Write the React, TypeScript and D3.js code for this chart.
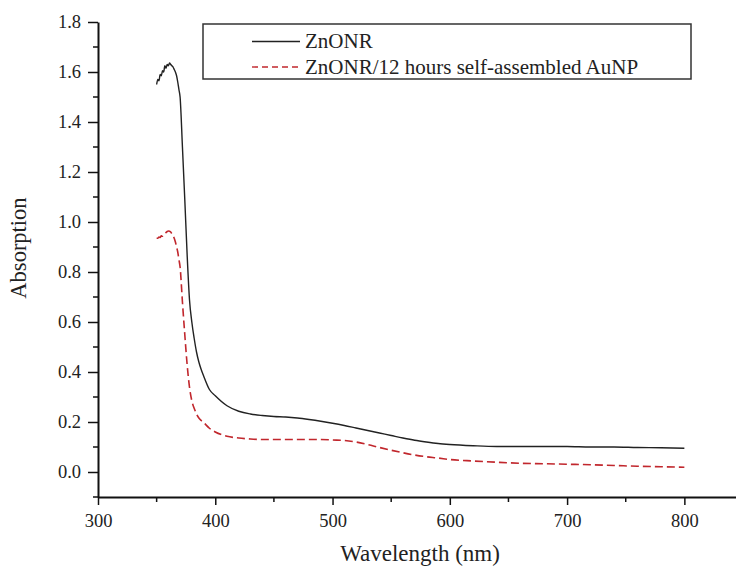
import React, { useEffect, useRef } from 'react';
import * as d3 from 'd3';

// wavelength samples (nm)
const wavelength = [
  350, 351, 352, 353, 354, 355, 356, 357, 358, 359, 360, 361, 362, 363, 364, 365,
  366, 367, 368, 369, 370, 372, 374, 376, 378, 380, 382, 384, 386, 388, 390, 395,
  400, 410, 420, 430, 440, 450, 460, 470, 480, 490, 500, 510, 520, 530, 540, 550,
  560, 570, 580, 590, 600, 620, 640, 660, 680, 700, 720, 740, 760, 780, 800
];

// ZnONR absorption
const znonr = [
  1.55, 1.57, 1.565, 1.59, 1.585, 1.605, 1.6, 1.625, 1.615, 1.63, 1.625, 1.636, 1.63, 1.625, 1.62, 1.61,
  1.6, 1.585, 1.56, 1.53, 1.5, 1.3, 1.09, 0.87, 0.69, 0.6, 0.535, 0.48, 0.44, 0.41, 0.385, 0.33,
  0.305, 0.265, 0.243, 0.232, 0.226, 0.222, 0.22, 0.216, 0.21, 0.203, 0.195, 0.186, 0.176, 0.166, 0.156, 0.146,
  0.136, 0.127, 0.12, 0.114, 0.11, 0.105, 0.102, 0.102, 0.102, 0.102, 0.1, 0.1, 0.098, 0.097, 0.095
];

// ZnONR/12 hours self-assembled AuNP absorption
const znonrAu = [
  0.935, 0.935, 0.94, 0.938, 0.945, 0.943, 0.95, 0.955, 0.958, 0.962, 0.964, 0.963, 0.96, 0.953, 0.945, 0.935,
  0.92, 0.9, 0.88, 0.85, 0.82, 0.68, 0.55, 0.43, 0.34, 0.285, 0.255, 0.232, 0.216, 0.206, 0.198, 0.175,
  0.16, 0.143, 0.136, 0.132, 0.13, 0.13, 0.13, 0.13, 0.13, 0.13, 0.128, 0.126, 0.12, 0.11, 0.098, 0.087,
  0.077, 0.068, 0.061, 0.056, 0.05, 0.044, 0.039, 0.035, 0.033, 0.031, 0.029, 0.026, 0.023, 0.021, 0.019
];

const legendLabels = ['ZnONR', 'ZnONR/12 hours self-assembled AuNP'];
const xMajor = [300, 400, 500, 600, 700, 800];
const xMinor = [350, 450, 550, 650, 750, 850];
const yMajor = [0, 0.2, 0.4, 0.6, 0.8, 1.0, 1.2, 1.4, 1.6, 1.8];
const yMinor = [-0.1, 0.1, 0.3, 0.5, 0.7, 0.9, 1.1, 1.3, 1.5, 1.7];

const W = 736;
const H = 566;
const font = '"Liberation Serif", "Times New Roman", serif';

export default function App() {
  const ref = useRef<SVGSVGElement>(null);

  useEffect(() => {
    const svg = d3.select(ref.current);
    svg.selectAll('*').remove();

    const x = d3.scaleLinear().domain([300, 850]).range([98, 743]);
    const y = d3.scaleLinear().domain([-0.1, 1.8]).range([497, 22]);

    // curves
    const line = d3.line<number>()
      .x((d, i) => x(wavelength[i]))
      .y(d => y(d))
      .curve(d3.curveMonotoneX);

    svg.append('path')
      .attr('d', line(znonr))
      .attr('fill', 'none')
      .attr('stroke', '#222')
      .attr('stroke-width', 1.4);

    svg.append('path')
      .attr('d', line(znonrAu))
      .attr('fill', 'none')
      .attr('stroke', '#c1272d')
      .attr('stroke-width', 1.6)
      .attr('stroke-dasharray', '8,4');

    // y axis
    const yAxis = svg.append('g').attr('transform', 'translate(98,0)');
    yAxis.call(
      d3.axisLeft(y).tickValues(yMajor).tickSize(10).tickSizeOuter(0).tickPadding(7)
        .tickFormat(d3.format('.1f'))
    );
    yAxis.append('g').selectAll('line').data(yMinor).enter().append('line')
      .attr('x1', -5).attr('x2', 0)
      .attr('y1', d => y(d)).attr('y2', d => y(d))
      .attr('stroke', '#111').attr('stroke-width', 1.5);

    // x axis
    const xAxis = svg.append('g').attr('transform', 'translate(0,497)');
    xAxis.call(
      d3.axisBottom(x).tickValues(xMajor).tickSize(8).tickSizeOuter(0).tickPadding(9)
        .tickFormat(d3.format('d'))
    );
    xAxis.append('g').selectAll('line').data(xMinor).enter().append('line')
      .attr('x1', d => x(d)).attr('x2', d => x(d))
      .attr('y1', 0).attr('y2', 5)
      .attr('stroke', '#111').attr('stroke-width', 1.5);

    [yAxis, xAxis].forEach(g => {
      g.select('.domain').attr('stroke', '#111').attr('stroke-width', 2);
      g.selectAll('.tick line').attr('stroke', '#111').attr('stroke-width', 1.5);
      g.selectAll('.tick text')
        .attr('fill', '#222')
        .style('font-family', font)
        .style('font-size', '18.5px');
    });

    // axis titles
    svg.append('text')
      .attr('x', 420).attr('y', 561)
      .attr('text-anchor', 'middle')
      .attr('fill', '#222')
      .style('font-family', font).style('font-size', '23px')
      .text('Wavelength (nm)');

    svg.append('text')
      .attr('transform', 'translate(26,248) rotate(-90)')
      .attr('text-anchor', 'middle')
      .attr('fill', '#222')
      .style('font-family', font).style('font-size', '22.5px')
      .text('Absorption');

    // legend
    const lg = svg.append('g');
    lg.append('rect')
      .attr('x', 203).attr('y', 24).attr('width', 488).attr('height', 55)
      .attr('fill', 'white').attr('stroke', '#333').attr('stroke-width', 1.5);
    const styles = [
      { stroke: '#222', dash: null },
      { stroke: '#c1272d', dash: '6,4' }
    ];
    legendLabels.forEach((label, i) => {
      const ly = 41.5 + i * 25.5;
      lg.append('line')
        .attr('x1', 252).attr('x2', 300).attr('y1', ly).attr('y2', ly)
        .attr('stroke', styles[i].stroke).attr('stroke-width', 1.4)
        .attr('stroke-dasharray', styles[i].dash);
      lg.append('text')
        .attr('x', 305).attr('y', ly + 6.5)
        .attr('fill', '#222')
        .style('font-family', font).style('font-size', '21px')
        .text(label);
    });
  }, []);

  return (
    <svg
      ref={ref}
      width={W}
      height={H}
      style={{ position: 'absolute', left: 0, top: 0, background: 'white' }}
    />
  );
}
